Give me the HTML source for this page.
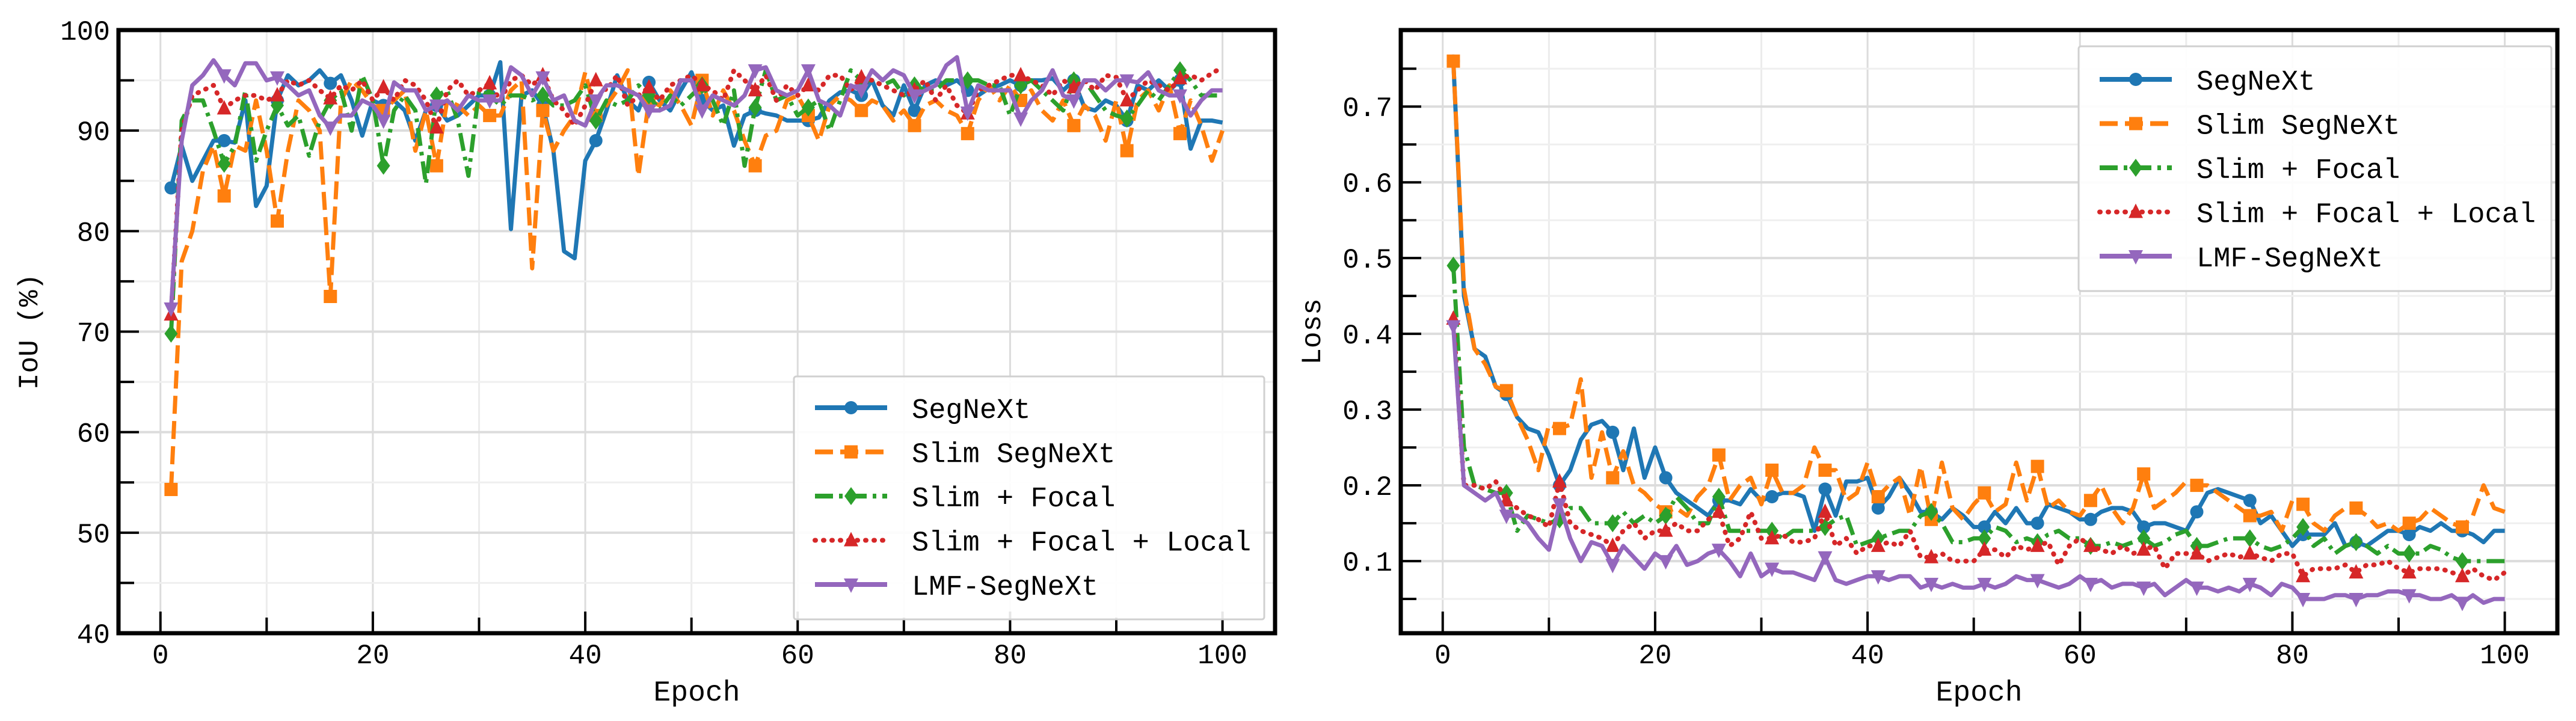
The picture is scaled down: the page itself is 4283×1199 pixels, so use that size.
<!DOCTYPE html>
<html><head><meta charset="utf-8"><style>
html,body{margin:0;padding:0;background:#fff}
svg{display:block}
text{font-family:"Liberation Mono","Noto Sans CJK SC",monospace;fill:#000}
</style></head><body>
<svg id="fig" width="4283" height="1199" viewBox="0 0 4283 1199" xmlns="http://www.w3.org/2000/svg"></svg>
<script>
const epochs = Array.from({length:100},(_,i)=>i+1);
const seriesNames = ["SegNeXt","Slim SegNeXt","Slim + Focal","Slim + Focal + Local","LMF-SegNeXt"];
const iouTicks = [40,50,60,70,80,90,100];
const lossTicks = [0.1,0.2,0.3,0.4,0.5,0.6,0.7];
const epochTicks = [0,20,40,60,80,100];

const iouSegNeXt = [84.3,88.5,85,87,89,89,88.8,93,82.5,84.5,93,95.5,94.5,95,96,94.7,95.5,93,89.5,93,92.5,93,92,89,92,92.5,91,91.5,92.5,93.5,93.5,96.8,80.2,93.5,94,92.5,88,78,77.3,87,89,92,95.5,93,92,94.8,93,92,94,95.8,93,92,92.5,88.5,91.5,92,91.7,91.5,91,91,91,91.3,93,93.8,94,93.5,95,92.5,91.5,94.5,92,94.5,95,94.5,95,94,93.5,94.2,94.5,95,94.5,95,95,95.2,94,95,92.3,92,93,92.5,91,94.5,94,95,94,95,88.2,91,91,90.8];
const iouSlim = [54.3,77,80,86,88.5,83.5,88.5,88,93,88,81,88,93,92,90,73.5,93,95,94,92.5,92,93,94,88,92,86.5,93,92.5,91.5,92.5,91.5,91.5,94,95,76.3,92,88,90,91.5,95.8,91.5,92.5,94,96,85.5,93,92.5,94,92.5,90.5,95,91.5,94,92,89,86.5,89.5,90,93,93.5,91.5,89,92.5,93.5,93,92,93,92.5,91,92,90.5,92.5,93,92,91.5,89.7,93,94.5,93,94.5,93,94,92,91,93,90.5,92.5,91.5,89,93,88,93,94,92,94.5,89.7,93,90.5,87,90];
const iouFocal = [69.8,91,93,93,90,86.7,88.5,94,87,90,92.5,90.5,91.5,87.5,91,93,94,90,95.5,93,86.5,92,93.5,92,84.7,93.5,94,91,85.5,94,93.5,92.5,93.5,93.5,93,93.5,92.5,92.5,93,94.5,91,93,92.5,93,94.5,93.5,92,93.5,92.5,93.5,94.5,93,90.5,94,86.5,92.3,96,93,93.5,91.5,92.3,93,90,93,96,95,95,94.5,95,93.5,94.5,94,94,95,95,95,95,94.5,94.5,91.5,94.5,95,94,93,92,95,95,93.5,92,91.5,91.2,92.5,94,93,94.5,96,95,93.5,93.5,93.5];
const iouLocal = [71.7,90,93.5,94,94.5,92.2,93,93.5,93.5,93,93.5,95,94.5,95,94,93.2,94.5,94,95,93,94.3,93,95,94.5,93,90.3,94,95,93.5,94,94.7,93,95,95.5,94.5,95.5,93,92,90.5,92.5,95,94,95.5,92.5,93.5,94.3,93,94.5,95,95.5,94.5,94,93,96,95,94,95.5,93,94.5,93.5,94.5,94,95.5,95.5,94,95.3,95,94.5,94,93.5,94,95,93,94.5,92.5,91.7,94,94.5,95,95.5,95.5,95,94.5,93.5,95,94.3,95,94,95.5,95.3,93,94,95,94.5,94,95.2,95.5,95,95.7,96.3];
const iouLMF = [72.3,89,94.5,95.5,97,95.5,94.5,96.7,96.7,95,95.3,94.5,93.5,94,91.5,90.3,91.5,91.5,93,92.5,91,94.8,94,94,92,92.5,93,92,93.5,93,93,93,96.3,95.5,93.5,95.3,93,93.5,91,90.5,93,94.5,94.5,94,93.5,92,92,92.5,95,95,92,93.5,93,92.5,93.5,96,96.3,94,93.5,94,96,93,92.5,91.5,94.5,94,96,95,96,95.5,93.5,94,94.5,96.5,97.3,91.8,94.5,94,94,94,91.2,93,94,96,93.5,93,95,95,94,95,95,94.8,95.8,94,93.5,93.5,91.5,93,94,94];

const lossSegNeXt = [0.76,0.45,0.38,0.37,0.33,0.32,0.29,0.275,0.27,0.24,0.20,0.22,0.26,0.28,0.285,0.27,0.22,0.275,0.21,0.25,0.21,0.19,0.18,0.17,0.16,0.18,0.18,0.175,0.195,0.18,0.185,0.19,0.19,0.185,0.14,0.195,0.16,0.205,0.205,0.21,0.17,0.185,0.21,0.19,0.165,0.165,0.155,0.17,0.16,0.145,0.145,0.165,0.15,0.17,0.15,0.15,0.175,0.17,0.165,0.155,0.155,0.165,0.17,0.17,0.165,0.145,0.15,0.15,0.145,0.14,0.165,0.19,0.195,0.19,0.185,0.18,0.15,0.16,0.14,0.12,0.135,0.135,0.135,0.15,0.12,0.125,0.12,0.13,0.14,0.14,0.135,0.145,0.14,0.15,0.14,0.14,0.135,0.125,0.14,0.14];
const lossSlim = [0.76,0.46,0.38,0.36,0.33,0.325,0.29,0.26,0.22,0.28,0.275,0.28,0.34,0.21,0.27,0.21,0.245,0.20,0.19,0.175,0.165,0.17,0.16,0.185,0.20,0.24,0.18,0.20,0.21,0.175,0.22,0.19,0.19,0.20,0.25,0.22,0.22,0.18,0.19,0.23,0.185,0.20,0.21,0.16,0.225,0.155,0.23,0.17,0.155,0.175,0.19,0.165,0.175,0.23,0.18,0.225,0.17,0.18,0.165,0.16,0.18,0.20,0.17,0.15,0.17,0.215,0.17,0.18,0.19,0.205,0.20,0.20,0.19,0.18,0.17,0.16,0.16,0.165,0.14,0.18,0.175,0.15,0.14,0.16,0.17,0.17,0.16,0.145,0.15,0.14,0.15,0.155,0.17,0.16,0.15,0.145,0.16,0.20,0.17,0.165];
const lossFocal = [0.49,0.25,0.20,0.195,0.19,0.19,0.14,0.16,0.155,0.15,0.155,0.17,0.17,0.15,0.15,0.15,0.165,0.15,0.16,0.15,0.16,0.185,0.17,0.15,0.15,0.185,0.14,0.14,0.14,0.14,0.14,0.13,0.14,0.14,0.14,0.145,0.155,0.16,0.12,0.125,0.13,0.135,0.14,0.14,0.16,0.165,0.15,0.125,0.125,0.13,0.13,0.145,0.14,0.125,0.13,0.125,0.135,0.14,0.13,0.13,0.12,0.12,0.125,0.12,0.125,0.13,0.12,0.125,0.135,0.14,0.12,0.12,0.125,0.13,0.13,0.13,0.12,0.115,0.12,0.13,0.145,0.12,0.13,0.11,0.12,0.125,0.12,0.11,0.12,0.11,0.11,0.11,0.12,0.115,0.105,0.10,0.10,0.10,0.10,0.10];
const lossLocal = [0.42,0.20,0.20,0.195,0.205,0.18,0.17,0.16,0.155,0.145,0.205,0.15,0.14,0.135,0.13,0.12,0.14,0.15,0.13,0.14,0.14,0.15,0.14,0.14,0.155,0.165,0.12,0.13,0.165,0.13,0.13,0.135,0.125,0.125,0.13,0.165,0.12,0.13,0.11,0.12,0.12,0.125,0.12,0.14,0.105,0.105,0.11,0.10,0.10,0.10,0.115,0.115,0.105,0.12,0.115,0.12,0.125,0.095,0.12,0.13,0.12,0.115,0.11,0.12,0.11,0.115,0.12,0.09,0.11,0.11,0.11,0.10,0.105,0.11,0.105,0.11,0.105,0.10,0.11,0.11,0.08,0.09,0.09,0.09,0.095,0.085,0.095,0.095,0.1,0.09,0.085,0.09,0.09,0.09,0.085,0.08,0.09,0.08,0.075,0.085];
const lossLMF = [0.41,0.20,0.19,0.18,0.19,0.16,0.16,0.15,0.13,0.115,0.175,0.13,0.10,0.125,0.12,0.095,0.12,0.105,0.09,0.11,0.10,0.12,0.095,0.10,0.11,0.115,0.10,0.08,0.11,0.08,0.09,0.085,0.085,0.08,0.075,0.105,0.075,0.07,0.075,0.08,0.08,0.075,0.08,0.08,0.065,0.07,0.065,0.07,0.065,0.065,0.07,0.065,0.07,0.08,0.075,0.075,0.07,0.065,0.07,0.08,0.07,0.075,0.065,0.07,0.07,0.065,0.07,0.055,0.065,0.075,0.065,0.065,0.06,0.065,0.06,0.07,0.065,0.055,0.07,0.065,0.05,0.05,0.05,0.055,0.055,0.05,0.055,0.055,0.06,0.06,0.055,0.055,0.05,0.05,0.055,0.045,0.055,0.045,0.05,0.05];

const NS="http://www.w3.org/2000/svg";
const svg=document.getElementById('fig');
function mk(tag,attrs,parent){const e=document.createElementNS(NS,tag);for(const k in attrs)e.setAttribute(k,attrs[k]);(parent||svg).appendChild(e);return e;}
const colors=["#1f77b4","#ff7f0e","#2ca02c","#d62728","#9467bd"];
const dashes=["none","30 12","30 10 6 10","6 12","none"];
const markerKinds=["circle","square","diamond","tri-up","tri-down"];
function marker(kind,x,y,c,g){
  let e;
  if(kind==="circle") e=mk('circle',{cx:x,cy:y,r:11,fill:c},g);
  else if(kind==="square") e=mk('rect',{x:x-11,y:y-11,width:22,height:22,fill:c},g);
  else if(kind==="diamond") e=mk('polygon',{points:`${x},${y-15} ${x+11},${y} ${x},${y+15} ${x-11},${y}`,fill:c},g);
  else if(kind==="tri-up") e=mk('polygon',{points:`${x},${y-14} ${x+12},${y+10} ${x-12},${y+10}`,fill:c},g);
  else e=mk('polygon',{points:`${x},${y+14} ${x+12},${y-10} ${x-12},${y-10}`,fill:c},g);
  
  
}

function panel(cfg){
  const {id,L,R,T,B,xmin,xmax,ymin,ymax,yTicks,yMinor,yFmt,ylabel,ylabelX,series,legend}=cfg;
  const sx=v=>L+(v-xmin)/(xmax-xmin)*(R-L);
  const sy=v=>B-(v-ymin)/(ymax-ymin)*(B-T);
  const g=mk('g',{});
  
  
  // grid
  const grid=mk('g',{},g);
  
  
  for(let e=0;e<=100;e+=10){mk('line',{x1:sx(e),x2:sx(e),y1:T,y2:B,stroke:e%20===0?'#dcdcdc':'#ececec','stroke-width':3},grid);}
  yMinor.forEach(v=>mk('line',{x1:L,x2:R,y1:sy(v),y2:sy(v),stroke:'#efefef','stroke-width':3},grid));
  yTicks.forEach(v=>mk('line',{x1:L,x2:R,y1:sy(v),y2:sy(v),stroke:'#dcdcdc','stroke-width':4},grid));
  // clip
  const cid='clip-'+id;
  const cp=mk('clipPath',{id:cid},g); mk('rect',{x:L,y:T,width:R-L,height:B-T},cp);
  const plot=mk('g',{'clip-path':`url(#${cid})`},g);
  series.forEach((vals,si)=>{
    const pts=vals.map((v,i)=>`${sx(epochs[i]).toFixed(1)},${sy(v).toFixed(1)}`).join(' ');
    const sg=mk('g',{},plot);
    
    
    const a={points:pts,fill:'none',stroke:colors[si],'stroke-width':si===3?7:7,'stroke-linejoin':'round'};
    if(dashes[si]!=='none'){a['stroke-dasharray']=dashes[si];}
    if(si===3){a['stroke-linecap']='round';a['stroke-dasharray']='1 13';a['stroke-width']=8;}
    const pl=mk('polyline',a,sg);
    
    
    vals.forEach((v,i)=>{if(i%5===0)marker(markerKinds[si],sx(epochs[i]),sy(v),colors[si],sg);});
  });
  // ticks
  const tk=mk('g',{stroke:'#000','stroke-width':4},g);
  
  
  for(let e=0;e<=100;e+=10){const len=e%20===0?36:26;mk('line',{x1:sx(e),x2:sx(e),y1:B,y2:B-len},tk);}
  yTicks.forEach(v=>mk('line',{x1:L,x2:L+34,y1:sy(v),y2:sy(v)},tk));
  yMinor.forEach(v=>mk('line',{x1:L,x2:L+26,y1:sy(v),y2:sy(v)},tk));
  // spines
  const sp=mk('rect',{x:L,y:T,width:R-L,height:B-T,fill:'none',stroke:'#000','stroke-width':7},g);
  
  
  // tick labels
  epochTicks.forEach(e=>{const t=mk('text',{x:sx(e),y:B+50,'font-size':46,'text-anchor':'middle'},g);t.textContent=e;
    });
  yTicks.concat(cfg.extraY||[]).forEach(v=>{const t=mk('text',{x:L-14,y:sy(v)+16,'font-size':46,'text-anchor':'end'},g);t.textContent=yFmt(v);
    });
  const xl=mk('text',{x:(L+R)/2,y:B+112,'font-size':48,'text-anchor':'middle','font-family':'Liberation Sans, sans-serif'},g);xl.textContent='Epoch';
  
  const yl=mk('text',{x:0,y:0,'font-size':46,'text-anchor':'middle',transform:`translate(${ylabelX},${(T+B)/2}) rotate(-90)`},g);yl.textContent=ylabel;
  
  // legend
  const lg=mk('g',{},g);
  
  
  mk('rect',{x:legend.x,y:legend.y,width:legend.w,height:legend.h,fill:'#fff','fill-opacity':0.9,stroke:'#d0d0d0','stroke-width':3,rx:4},lg);
  seriesNames.forEach((n,si)=>{
    const ey=legend.y+legend.first+si*73.5;
    const eg=mk('g',{},lg);
    
    
    const a={x1:legend.x+35,x2:legend.x+155,y1:ey,y2:ey,stroke:colors[si],'stroke-width':8};
    if(si===1)a['stroke-dasharray']='30 12';
    if(si===2)a['stroke-dasharray']='30 10 6 10';
    if(si===3){a['stroke-dasharray']='1 13';a['stroke-linecap']='round';}
    mk('line',a,eg);
    marker(markerKinds[si],legend.x+95,ey,colors[si],eg);
    const t=mk('text',{x:legend.x+196,y:ey+17,'font-size':47},eg);t.textContent=n;
  });
}
panel({id:'iou-panel',L:197,R:2120,T:50,B:1053,xmin:-3.95,xmax:104.95,ymin:40,ymax:100,
  yTicks:iouTicks,yMinor:[45,55,65,75,85,95],yFmt:v=>String(v),ylabel:'IoU (%)',ylabelX:62,
  series:[iouSegNeXt,iouSlim,iouFocal,iouLocal,iouLMF],
  legend:{x:1320,y:626,w:782,h:404,first:52}});
panel({id:'loss-panel',L:2329,R:4252,T:50,B:1053,xmin:-3.95,xmax:104.95,ymin:0.0048,ymax:0.801,
  yTicks:lossTicks,yMinor:[0.05,0.15,0.25,0.35,0.45,0.55,0.65,0.75],yFmt:v=>v.toFixed(1),ylabel:'Loss',ylabelX:2195,
  series:[lossSegNeXt,lossSlim,lossFocal,lossLocal,lossLMF],
  legend:{x:3456,y:77,w:786,h:407,first:55}});
</script>
</body></html>
